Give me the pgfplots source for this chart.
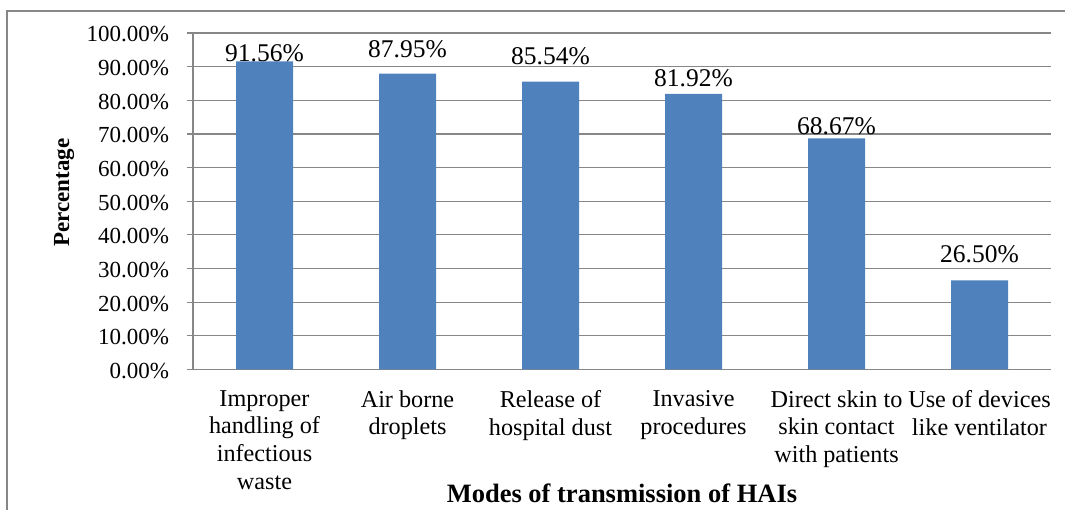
\documentclass[border=0pt]{standalone}
\usepackage{pgfplots}
\usepackage{pgfplotstable}
\pgfplotsset{compat=1.18}
\usepackage{fontspec}
\setmainfont{Liberation Serif}
\definecolor{barblue}{HTML}{4F81BD}
\definecolor{gridgray}{HTML}{878787}
\pgfplotstableread{
x value labely label
0 91.56 91.47 91.56\%
1 87.95 92.57 87.95\%
2 85.54 90.70 85.54\%
3 81.92 84.04 81.92\%
4 68.67 69.90 68.67\%
5 26.50 31.65 26.50\%
}\datatable
\begin{document}
\fontsize{23}{27.7}\selectfont
\begin{tikzpicture}[x=1pt,y=1pt]
\useasboundingbox (0,0) rectangle (1065,510);
\draw[gridgray, line width=1.2pt] (7,0) -- (7,499) -- (1065,499);
\begin{axis}[
  at={(193pt,140.5pt)}, anchor=south west,
  scale only axis, width=858pt, height=336.5pt,
  ybar, bar width=57pt,
  xmin=-0.5, xmax=5.5, ymin=0, ymax=100,
  xtick={0,...,5},
  xticklabels={{Improper\\handling of\\infectious\\waste},{Air borne\\droplets},{Release of\\hospital dust},{Invasive\\procedures},{Direct skin to\\skin contact\\with patients},{Use of devices\\like ventilator}},
  xticklabel style={align=center, font=\fontsize{24.2}{27.7}\selectfont, yshift=-7pt},
  major x tick style={draw=none},
  extra x ticks={-0.5,0.5,1.5,2.5,3.5,4.5,5.5},
  extra x tick labels={},
  extra x tick style={major tick length=6pt, tick style={draw=gridgray, line width=1.2pt}, grid=none},
  ytick={0,10,...,100},
  yticklabel={\pgfmathprintnumber[fixed,fixed zerofill,precision=2]{\tick}\%},
  /pgf/number format/assume math mode=true,
  yticklabel style={font=\fontsize{23}{27.7}\selectfont, xshift=-10pt, yshift=-1.5pt},
  ymajorgrids, major grid style={gridgray, line width=1.2pt},
  tick align=outside, tick pos=left,
  major tick length=6pt,
  y tick style={draw=gridgray, line width=1.2pt},
  axis x line*=bottom, axis y line*=left,
  axis line style={draw=gridgray, line width=1.2pt},
  xlabel={\textbf{Modes of transmission of HAIs}},
  ylabel={\textbf{Percentage}},
  xlabel style={at={(axis description cs:0.5,-0.3967)}, anchor=base, font=\fontsize{26.5}{30}\selectfont},
  ylabel style={at={(axis description cs:-0.1503,0.526)}, anchor=center, font=\fontsize{23}{27.7}\selectfont},
]
\addplot[fill=barblue, draw=none] table[x=x, y=value] {\datatable};
\addplot[draw=none, fill=none, bar shift=0pt, forget plot,
  nodes near coords, point meta=explicit symbolic,
  nodes near coords style={anchor=base, inner sep=0pt, font=\fontsize{25.5}{30}\selectfont, text=black}]
  table[x=x, y=labely, meta=label] {\datatable};
\end{axis}
\end{tikzpicture}
\end{document}
